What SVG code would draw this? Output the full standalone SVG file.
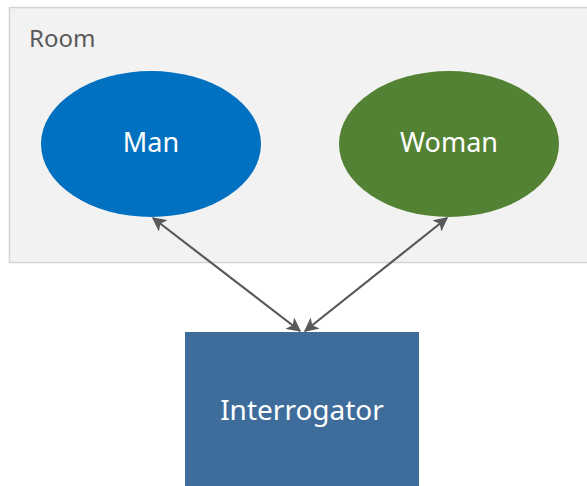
<svg xmlns="http://www.w3.org/2000/svg" width="587" height="486" viewBox="0 0 587 486">
<defs>
<marker id="ah" viewBox="0 0 10 10" refX="9" refY="5" markerWidth="6.5" markerHeight="6.5" orient="auto-start-reverse" markerUnits="strokeWidth">
<path d="M0,0 L10,5 L0,10 L2.5,5 z" fill="#595959"/>
</marker>
<style>
.lbl{font-family:"Noto Sans","Open Sans","Liberation Sans",sans-serif;font-size:27px;fill:#ffffff;text-anchor:middle}
.conn{stroke:#595959;stroke-width:2.2;fill:none;marker-start:url(#ah);marker-end:url(#ah)}
</style>
</defs>
<rect width="587" height="486" fill="#ffffff"/>
<g id="room">
<rect x="9.5" y="7.5" width="590" height="255" fill="#f2f2f2" stroke="#d4d4d4" stroke-width="1.5"/>
<text x="29" y="47" style="font-family:'Noto Sans','Open Sans','Liberation Sans',sans-serif;font-size:24px;fill:#595959">Room</text>
</g>
<g id="man">
<ellipse cx="151" cy="144" rx="110" ry="73" fill="#0070c0"/>
<text class="lbl" x="151" y="152">Man</text>
</g>
<g id="woman">
<ellipse cx="449" cy="144" rx="110" ry="73" fill="#548235"/>
<text class="lbl" x="449" y="152">Woman</text>
</g>
<g id="interrogator">
<rect x="185" y="332" width="234" height="160" fill="#3f6d9b"/>
<text class="lbl" x="302" y="420" style="font-size:28px">Interrogator</text>
</g>
<g id="connectors">
<line class="conn" x1="153" y1="218" x2="300" y2="331"/>
<line class="conn" x1="447" y1="218" x2="305" y2="331"/>
</g>
</svg>
